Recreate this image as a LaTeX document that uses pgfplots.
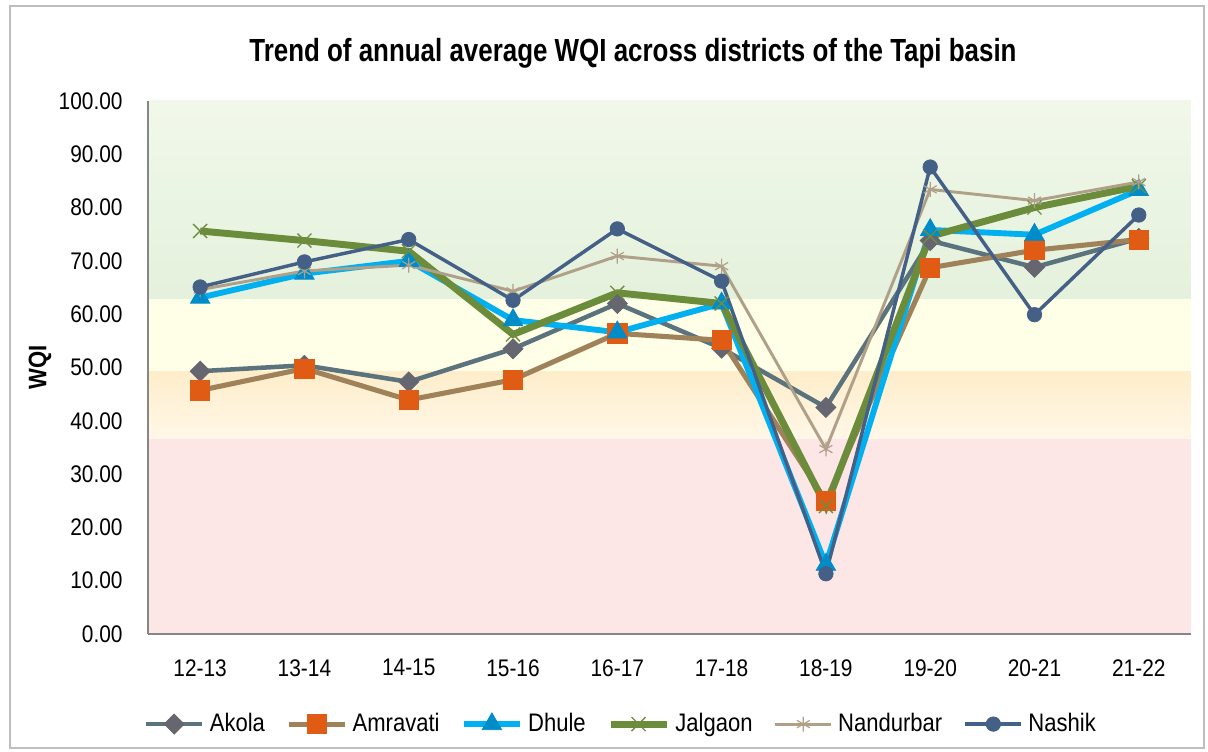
\documentclass[border=0pt]{standalone}
\usepackage{fontspec}
\setmainfont{Liberation Sans}[FakeStretch=0.87]
\newfontfamily\titlefont{Liberation Sans}[FakeStretch=0.81]
\usepackage{pgfplots}
\pgfplotsset{compat=1.18}

\definecolor{akolaline}{RGB}{90,115,125}
\definecolor{akolamark}{RGB}{102,102,112}
\definecolor{amraline}{RGB}{160,130,90}
\definecolor{amramark}{RGB}{224,92,20}
\definecolor{dhuleline}{RGB}{0,176,240}
\definecolor{dhulemark}{RGB}{0,140,200}
\definecolor{jalline}{RGB}{107,140,58}
\definecolor{jalmark}{RGB}{112,140,64}
\definecolor{nandline}{RGB}{176,160,136}
\definecolor{nashline}{RGB}{68,96,135}
\definecolor{axisgray}{RGB}{134,134,134}
\definecolor{framegray}{RGB}{190,190,190}
\definecolor{bggreentop}{RGB}{241,248,234}
\definecolor{bggreenbot}{RGB}{228,241,220}
\definecolor{bgyellow}{RGB}{255,254,230}
\definecolor{bgorangetop}{RGB}{254,237,202}
\definecolor{bgorangebot}{RGB}{255,247,232}
\definecolor{bgpink}{RGB}{253,230,230}

\begin{document}
\begin{tikzpicture}
\begin{axis}[
    set layers,
    scale only axis,
    width=391.1pt,
    height=199.9pt,
    xmin=-0.5, xmax=9.5,
    ymin=0, ymax=100,
    xtick={0,...,9},
    xticklabels={12-13,13-14,14-15,15-16,16-17,17-18,18-19,19-20,20-21,21-22},
    ytick={0,10,...,100},
    major tick length=0pt,
    axis x line*=bottom,
    axis y line*=left,
    axis line style={-, draw=axisgray, line width=0.6pt},
    tick label style={font=\fontsize{9}{10}\selectfont},
    /pgf/number format/assume math mode=true,
    yticklabel style={/pgf/number format/fixed, /pgf/number format/fixed zerofill, /pgf/number format/precision=2, xshift=-6pt},
    xticklabel style={yshift=-6pt},
    ylabel={WQI},
    ylabel style={at={(rel axis cs:-0.1035,0.5)}, anchor=center, font=\bfseries\fontsize{9.5}{11}\selectfont},
    title={Trend of annual average WQI across districts of the Tapi basin},
    title style={at={(rel axis cs:0.465,1.06)}, anchor=center, font=\titlefont\bfseries\fontsize{12}{14}\selectfont},
    legend style={at={(rel axis cs:0.455,-0.169)}, anchor=center, draw=none, fill=none,
        legend columns=6, font=\fontsize{9.5}{11}\selectfont,
        cells={inner xsep=1pt},
        /tikz/every even column/.append style={column sep=6pt}},
    legend cell align=left,
    legend image code/.code={
        \draw[mark repeat=2,mark phase=2,#1] plot coordinates {(0pt,0pt) (10.5pt,0pt) (21pt,0pt)};
    },
]
\begin{pgfonlayer}{axis background}
\shade[top color=bggreentop, bottom color=bggreenbot] (axis cs:-0.5,62.8) rectangle (axis cs:9.5,100);
\fill[bgyellow] (axis cs:-0.5,49.3) rectangle (axis cs:9.5,62.8);
\shade[top color=bgorangetop, bottom color=bgorangebot] (axis cs:-0.5,36.5) rectangle (axis cs:9.5,49.3);
\fill[bgpink] (axis cs:-0.5,0) rectangle (axis cs:9.5,36.5);
\end{pgfonlayer}

\addplot[akolaline, line width=1.7pt, mark=square*, mark size=2.65pt,
    mark options={solid, rotate=45, fill=akolamark, draw=akolamark, line width=0.3pt}]
coordinates {(0,49.3) (1,50.4) (2,47.3) (3,53.5) (4,62.0) (5,53.6) (6,42.5) (7,73.8) (8,68.8) (9,74.2)};
\addlegendentry{Akola}

\addplot[amraline, line width=1.9pt, mark=square*, mark size=3.6pt,
    mark options={solid, fill=amramark, draw=amramark, line width=0.3pt}]
coordinates {(0,45.7) (1,49.8) (2,43.9) (3,47.7) (4,56.4) (5,55.1) (6,25.0) (7,68.7) (8,72.0) (9,74.0)};
\addlegendentry{Amravati}

\addplot[dhuleline, line width=2.2pt, mark=triangle*, mark size=4.2pt,
    mark options={solid, fill=dhulemark, draw=dhulemark, line width=0.3pt}]
coordinates {(0,63.1) (1,67.6) (2,70.0) (3,58.9) (4,56.6) (5,62.0) (6,13.0) (7,75.8) (8,74.9) (9,83.3)};
\addlegendentry{Dhule}

\addplot[jalline, line width=2.6pt, mark=x, mark size=3.7pt,
    mark options={solid, draw=jalmark, line width=0.5pt}]
coordinates {(0,75.6) (1,73.8) (2,71.8) (3,56.2) (4,64.0) (5,62.0) (6,24.0) (7,74.6) (8,80.0) (9,84.0)};
\addlegendentry{Jalgaon}

\addplot[nandline, line width=1.1pt, mark=asterisk, mark size=2.8pt,
    mark options={solid, draw=nandline, line width=0.45pt}]
coordinates {(0,64.6) (1,68.1) (2,69.2) (3,64.3) (4,70.9) (5,69.0) (6,34.7) (7,83.4) (8,81.3) (9,84.8)};
\addlegendentry{Nandurbar}

\addplot[nashline, line width=1.3pt, mark=*, mark size=2.7pt,
    mark options={solid, fill=nashline, draw=nashline, line width=0.3pt}]
coordinates {(0,65.1) (1,69.8) (2,74.0) (3,62.6) (4,76.0) (5,66.2) (6,11.3) (7,87.6) (8,59.9) (9,78.6)};
\addlegendentry{Nashik}
\end{axis}
\draw[framegray, line width=0.8pt] (-51.75pt,-42.75pt) rectangle (396pt,235.5pt);
\path (-55.5pt,-43.9pt) rectangle (397.5pt,237.75pt);
\end{tikzpicture}
\end{document}
